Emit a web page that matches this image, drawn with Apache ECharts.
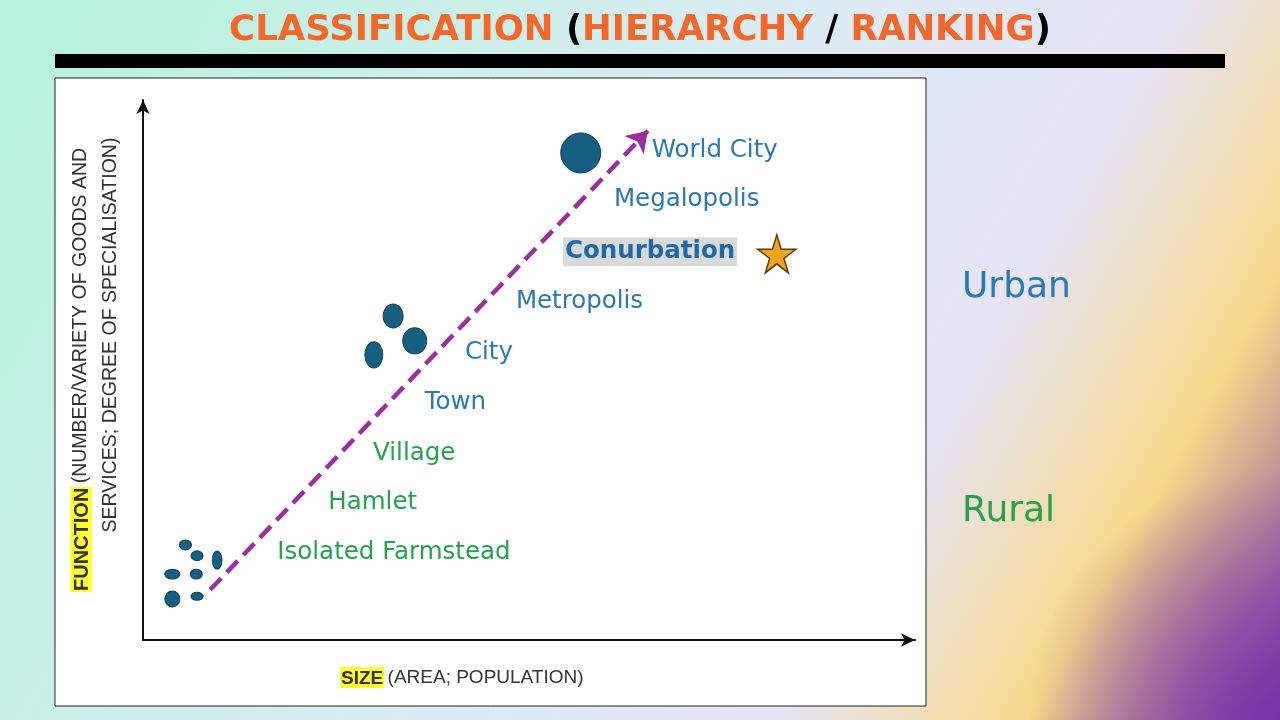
<!DOCTYPE html>
<html><head><meta charset="utf-8">
<script src="https://cdn.jsdelivr.net/npm/echarts@6/dist/echarts.min.js"></script>
<style>html,body{margin:0;padding:0}#main{width:1280px;height:720px}</style>
</head><body><div id="main"></div>
<script>
// 分级标签（x = 规模, y = 功能，0-100 的相对刻度）
var urbanLabels = ['World City', 'Megalopolis', 'Conurbation', 'Metropolis', 'City', 'Town'];
var urbanPos = [[65.9, 90.7], [61, 81.5], [54.4, 71.9], [48.3, 62.6], [41.7, 53.3], [36.5, 43.9]];
var ruralLabels = ['Village', 'Hamlet', 'Isolated Farmstead'];
var ruralPos = [[29.8, 34.6], [24, 25.4], [17.4, 16.1]];
// 聚落圆点 [x, y, 宽, 高]
var dots = [[56.7, 90.2, 40, 40], [32.4, 60, 20, 24], [35.2, 55.4, 24, 26], [29.9, 52.8, 18, 26],
  [5.5, 17.6, 12, 10], [7.0, 15.6, 12, 10], [9.6, 14.8, 10, 18], [3.8, 12.2, 15, 10],
  [6.9, 12.2, 12, 10], [3.8, 7.6, 15, 16], [7.0, 8.1, 12, 8]];
var star = [82.1, 71.5];
var arrow = [[8.7, 9.3], [65.4, 94.3]];

var chart = echarts.init(document.getElementById('main'));
var blue = '#2a78b5', green = '#25a24c', orange = '#f2672a';
var font = 'Liberation Sans, Arial, sans-serif';
var lfont = 'DejaVu Sans, sans-serif';

function labelData(names, pos, color) {
  return names.map(function (n, i) {
    var d = { value: pos[i], name: n, label: { color: color } };
    if (n === 'Conurbation') {
      d.label = { color: '#1f6aa5', fontWeight: 'bold', backgroundColor: '#d9d9d9', padding: [3, 2, 1, 2] };
    }
    return d;
  });
}

option = {
  animation: false,
  grid: { left: 143, right: 365, top: 100, bottom: 80 },
  xAxis: {
    type: 'value', min: 0, max: 100,
    axisLine: { lineStyle: { color: '#111', width: 2 }, symbol: ['none', 'arrow'], symbolSize: [10, 14] },
    axisTick: { show: false }, axisLabel: { show: false }, splitLine: { show: false }
  },
  yAxis: {
    type: 'value', min: 0, max: 100,
    axisLine: { show: true, lineStyle: { color: '#111', width: 2 }, symbol: ['none', 'arrow'], symbolSize: [10, 14] },
    axisTick: { show: false }, axisLabel: { show: false }, splitLine: { show: false }
  },
  graphic: [
    { type: 'rect', z: -20, shape: { x: 0, y: 0, width: 1280, height: 720 },
      style: { fill: new echarts.graphic.LinearGradient(0, 0, 1, 1, [
        { offset: 0, color: '#b4f2d9' }, { offset: 0.45, color: '#d9ecf2' },
        { offset: 0.7, color: '#e6e4f6' }, { offset: 0.85, color: '#f8d98a' }, { offset: 1, color: '#7d3fa8' }]) } },
    { type: 'rect', z: -19, shape: { x: 0, y: 0, width: 1280, height: 720 },
      style: { fill: new echarts.graphic.RadialGradient(1, 1, 0.35, [
        { offset: 0, color: 'rgba(120,50,170,0.9)' }, { offset: 1, color: 'rgba(120,50,170,0)' }]) } },
    { type: 'rect', z: -10, shape: { x: 55, y: 54, width: 1170, height: 14 }, style: { fill: '#000' } },
    { type: 'rect', z: -10, shape: { x: 55, y: 78, width: 871, height: 628 }, style: { fill: '#fff', stroke: '#222', lineWidth: 1 } },
    { type: 'text', left: 'center', top: 13, style: {
        text: '{o|CLASSIFICATION}{b| (}{o|HIERARCHY}{b| / }{o|RANKING}{b|)}',
        rich: { o: { fill: orange, fontSize: 35.5, fontWeight: 'bold', fontFamily: lfont },
                b: { fill: '#000', fontSize: 35.5, fontWeight: 'bold', fontFamily: lfont } } } },
    { type: 'text', x: 340, y: 667, style: {
        text: '{h|SIZE} {n|(AREA; POPULATION)}',
        rich: { h: { fill: '#333', backgroundColor: '#ffff33', fontSize: 19, fontWeight: 'bold', fontFamily: font, padding: [2, 1, 0, 1] },
                n: { fill: '#333', fontSize: 19, fontFamily: font } } } },
    { type: 'text', x: 66, y: 592, rotation: Math.PI / 2, style: {
        text: '{h|FUNCTION} {n|(NUMBER/VARIETY OF GOODS AND}\n{n|           SERVICES; DEGREE OF SPECIALISATION)}',
        lineHeight: 30,
        rich: { h: { fill: '#333', backgroundColor: '#ffff33', fontSize: 20, fontWeight: 'bold', fontFamily: font, padding: [2, 1, 0, 1] },
                n: { fill: '#333', fontSize: 19.5, fontFamily: font } } } },
    { type: 'text', x: 962, y: 270, style: { text: 'Urban', fill: blue, fontSize: 36, fontFamily: lfont } },
    { type: 'text', x: 962, y: 494, style: { text: 'Rural', fill: green, fontSize: 36, fontFamily: lfont } }
  ],
  series: [
    {
      type: 'lines', coordinateSystem: 'cartesian2d', z: 3,
      symbol: ['none', 'arrow'], symbolSize: 20,
      lineStyle: { color: '#9c2fa0', width: 4.5, type: [16, 8], opacity: 1 },
      data: [{ coords: arrow }]
    },
    {
      type: 'scatter', z: 4, itemStyle: { color: '#175f80', borderColor: '#0e3f57', borderWidth: 1, opacity: 1 },
      data: dots.map(function (d) { return { value: [d[0], d[1]], symbolSize: [d[2], d[3]] }; })
    },
    {
      type: 'scatter', z: 4, symbol: 'path://M50,0 L61,35 L98,35 L68,57 L79,92 L50,70 L21,92 L32,57 L2,35 L39,35 Z',
      symbolSize: 38, itemStyle: { color: '#f0a51c', borderColor: '#5a3a00', borderWidth: 1.5, opacity: 1 },
      data: [star]
    },
    {
      type: 'scatter', z: 5, symbolSize: 0, itemStyle: { opacity: 1 },
      label: { show: true, position: 'right', distance: 0, fontSize: 24.5, fontFamily: lfont, formatter: '{b}' },
      data: labelData(urbanLabels, urbanPos, blue).concat(labelData(ruralLabels, ruralPos, green))
    }
  ]
};
chart.setOption(option);
</script></body></html>
